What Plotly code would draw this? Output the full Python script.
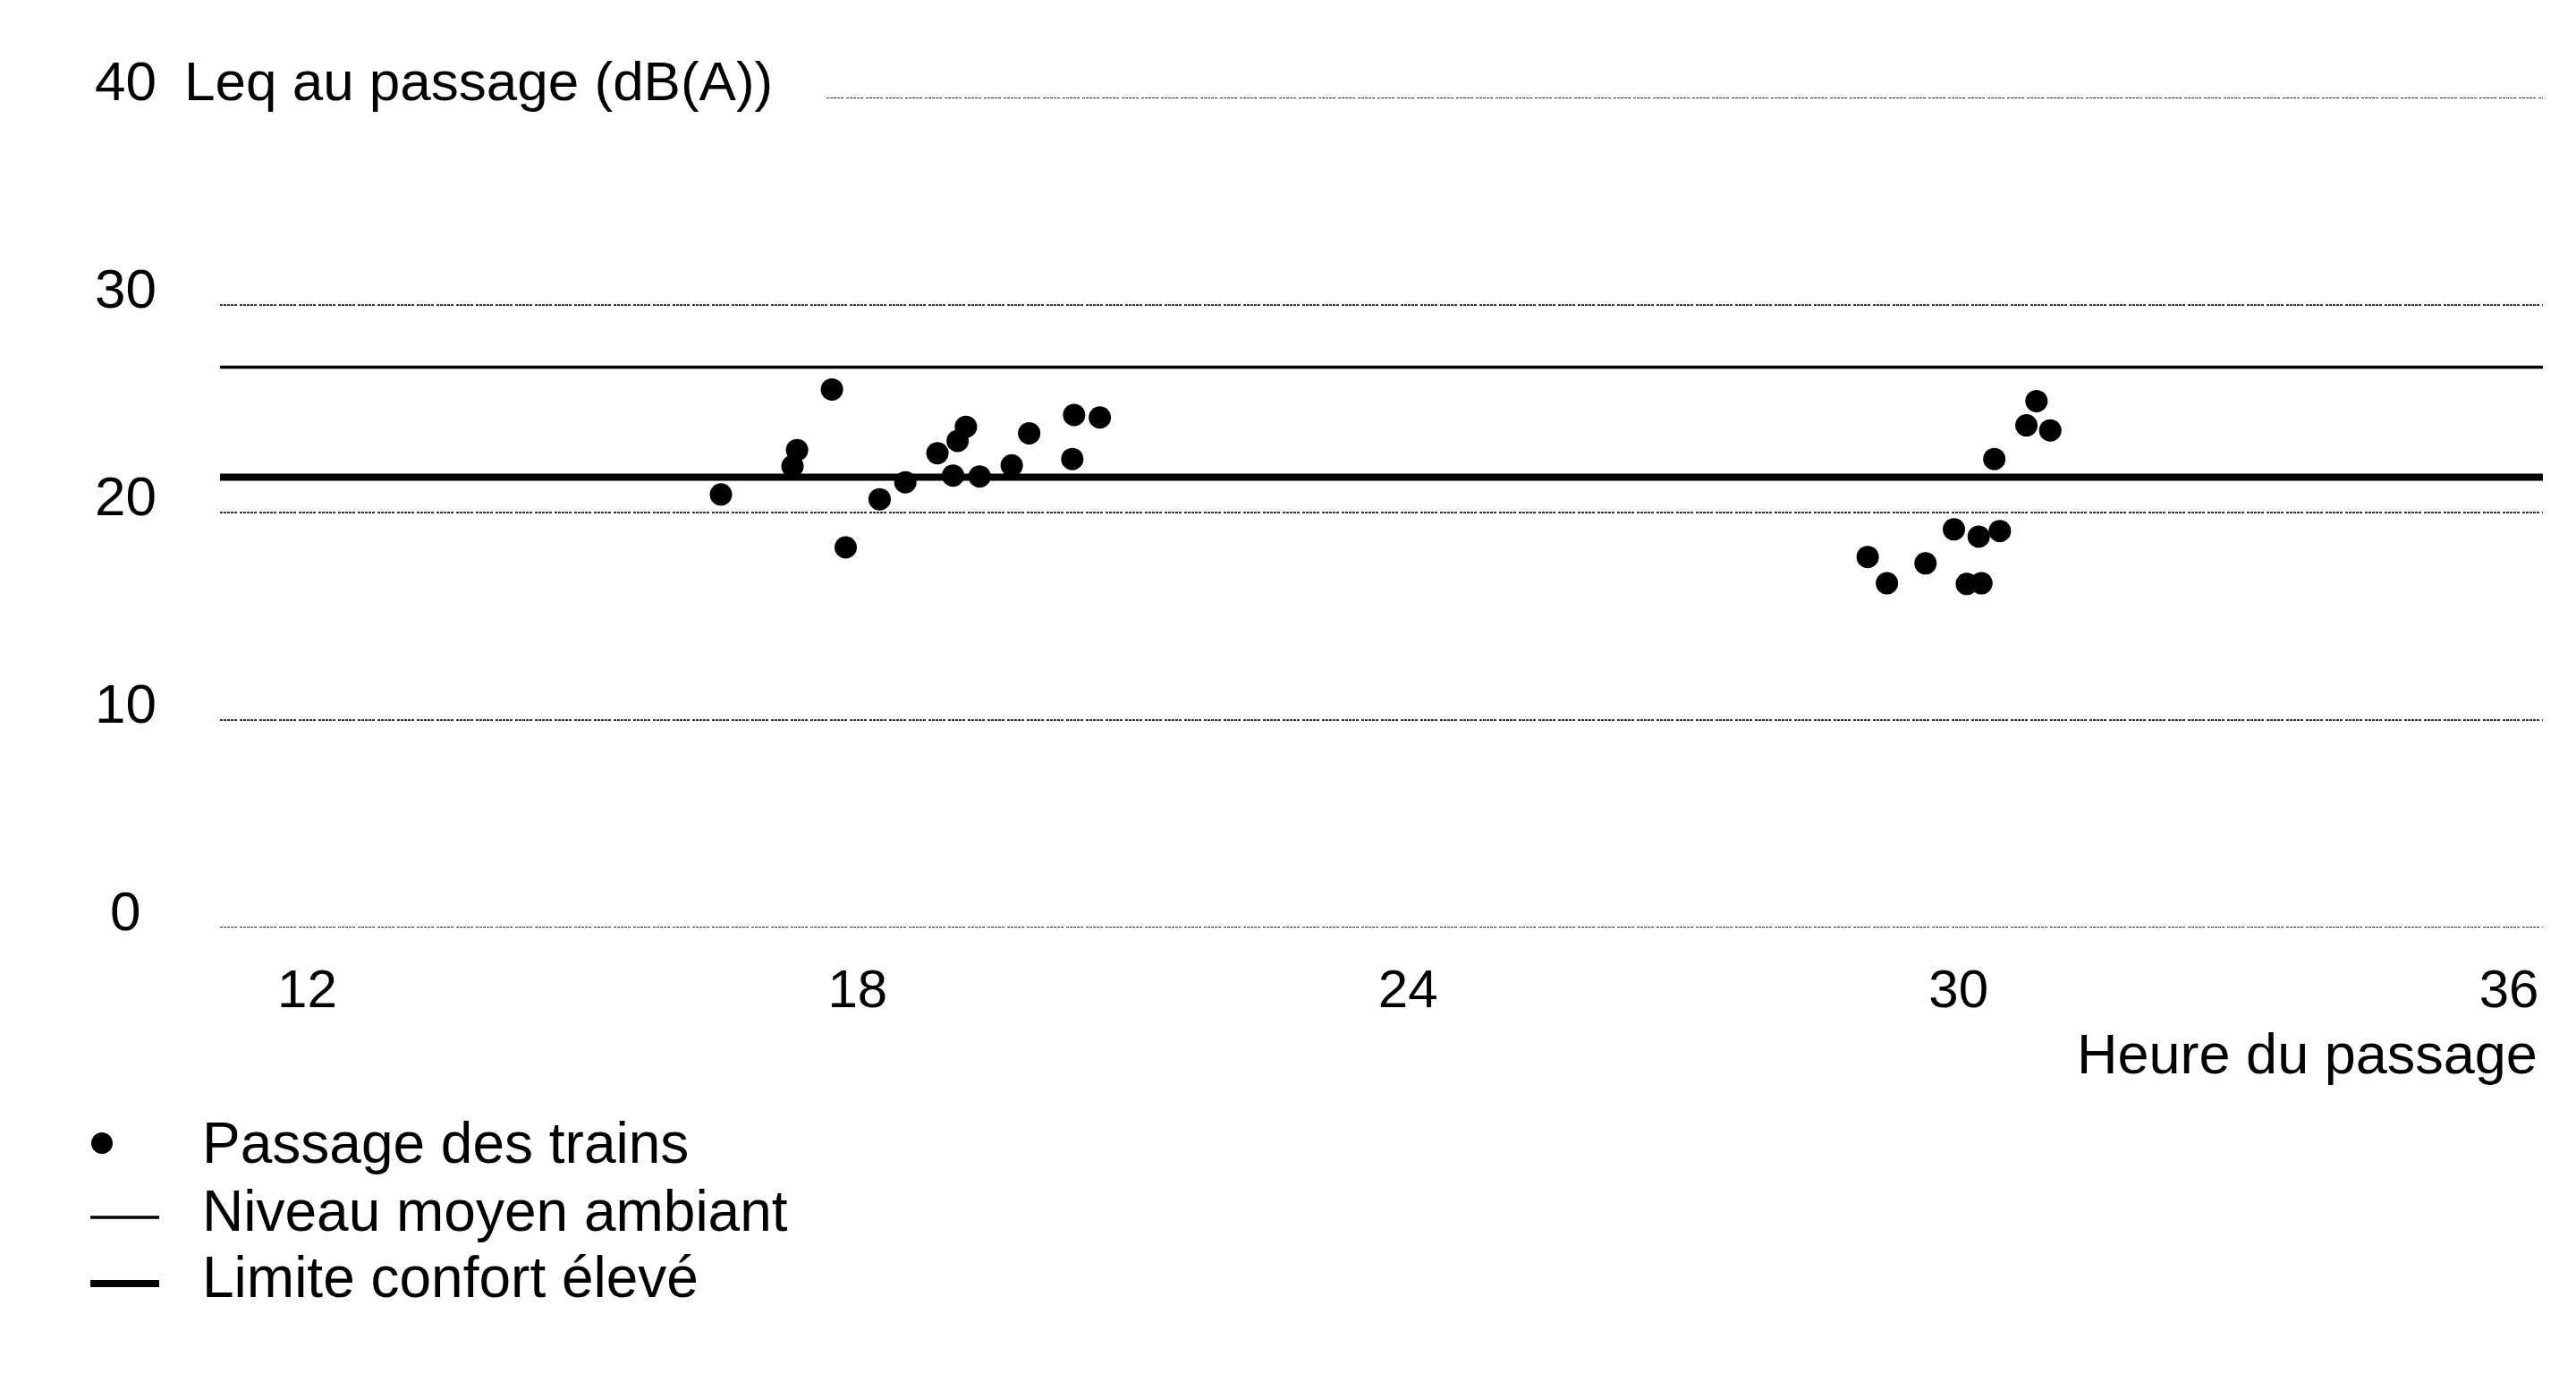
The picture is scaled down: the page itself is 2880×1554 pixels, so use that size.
import plotly.graph_objects as go

# ---------------- data ----------------
hours = [16.51, 17.34, 17.29, 17.72, 17.87, 18.24, 18.52, 18.87, 19.04, 19.09,
         19.18, 19.33, 19.68, 19.87, 20.36, 20.34, 20.64,
         30.85, 30.74, 31.00, 30.39, 29.95, 30.22, 30.45, 29.01, 29.64, 29.22,
         30.09, 30.25]
leq = [20.87, 23.01, 22.23, 25.93, 18.32, 20.64, 21.46, 22.86, 21.78, 23.45,
       24.13, 21.74, 22.27, 23.82, 24.70, 22.58, 24.58,
       25.37, 24.20, 23.96, 22.58, 19.19, 18.84, 19.11, 17.86, 17.55, 16.59,
       16.56, 16.59]
ambient_level = 27.0     # Niveau moyen ambiant
comfort_limit = 21.7     # Limite confort élevé

x_ticks = [12, 18, 24, 30, 36]
y_ticks = [0, 10, 20, 30, 40]
x_range = [11.05, 36.37]
y_range = [0, 40]

y_title = "Leq au passage (dB(A))"
x_title = "Heure du passage"
legend_labels = ["Passage des trains", "Niveau moyen ambiant", "Limite confort élevé"]

# ---------------- layout geometry ----------------
FIG_W, FIG_H = 2880, 1554
OFF = 8                      # page body margin in the browser
ML, MT = 246 - OFF, 109 - OFF
PW, PH = 2597, 928
MR = FIG_W - ML - PW
MB = FIG_H - MT - PH
FONT = "Liberation Sans, Arial, sans-serif"
FS = 62
GRID_DASH = "3px,1px,3px,1px,3px,1px,3px,1px,3px,3px"


def px_x(X):
    """screen pixel -> paper x"""
    return (X - OFF - ML) / PW


def px_y(Y):
    """screen pixel -> paper y"""
    return (MT + PH - (Y - OFF)) / PH


fig = go.Figure()

fig.add_trace(go.Scatter(
    x=hours, y=leq, mode="markers",
    marker=dict(size=25, color="black", line=dict(width=0)),
    showlegend=False, cliponaxis=False, hoverinfo="x+y",
))

# dotted gridlines
for v in y_ticks:
    fig.add_hline(y=v, x0=(px_x(924) if v == y_ticks[-1] else 0), x1=1,
                  line=dict(color="#333333", width=2, dash=GRID_DASH), layer="below")

# reference levels
fig.add_hline(y=ambient_level, line=dict(color="black", width=3.5), layer="below")
fig.add_hline(y=comfort_limit, line=dict(color="black", width=8), layer="below")

annotations = []
# y tick labels
for v in y_ticks:
    annotations.append(dict(
        x=0, xref="paper", y=v, yref="y", xshift=-106, yshift=19,
        text=str(v), showarrow=False, xanchor="center", yanchor="middle",
        font=dict(family=FONT, size=FS, color="black")))
# y title
annotations.append(dict(
    x=0, xref="paper", y=y_ticks[-1], yref="y", xshift=-42, yshift=19,
    text=y_title, showarrow=False, xanchor="left", yanchor="middle",
    font=dict(family=FONT, size=FS, color="black")))
# x title
annotations.append(dict(
    x=1, xref="paper", y=px_y(1178), yref="paper", xshift=-4,
    text=x_title, showarrow=False, xanchor="right", yanchor="middle",
    font=dict(family=FONT, size=63, color="black")))
# legend texts
for lab, yy in zip(legend_labels, [1278, 1354, 1428]):
    annotations.append(dict(
        x=px_x(224), xref="paper", y=px_y(yy), yref="paper",
        text=lab, showarrow=False, xanchor="left", yanchor="middle",
        font=dict(family=FONT, size=64, color="black")))

shapes = [
    # legend dot
    dict(type="circle", xref="paper", yref="paper",
         xsizemode="pixel", ysizemode="pixel",
         xanchor=px_x(114), yanchor=px_y(1278),
         x0=-12, x1=12, y0=-12, y1=12,
         fillcolor="black", line=dict(width=0)),
    # legend thin line
    dict(type="line", xref="paper", yref="paper",
         x0=px_x(101), x1=px_x(178), y0=px_y(1361), y1=px_y(1361),
         line=dict(color="black", width=3.5)),
    # legend thick line
    dict(type="line", xref="paper", yref="paper",
         x0=px_x(101), x1=px_x(178), y0=px_y(1435), y1=px_y(1435),
         line=dict(color="black", width=8)),
]
for s in shapes:
    fig.add_shape(**s)

fig.update_layout(
    width=FIG_W, height=FIG_H,
    margin=dict(l=ML, r=MR, t=MT, b=MB, pad=0),
    paper_bgcolor="white", plot_bgcolor="white",
    showlegend=False,
    font=dict(family=FONT, size=FS, color="black"),
    annotations=annotations,
    xaxis=dict(range=x_range, tickvals=x_ticks, ticktext=[str(t) for t in x_ticks],
               showgrid=False, zeroline=False, showline=False, ticks="",
               tickfont=dict(family=FONT, size=60, color="black"),
               ticklabelstandoff=28, fixedrange=True),
    yaxis=dict(range=y_range, showgrid=False, zeroline=False, showline=False,
               showticklabels=False, ticks="", fixedrange=True),
)

fig.write_html("out.html")
